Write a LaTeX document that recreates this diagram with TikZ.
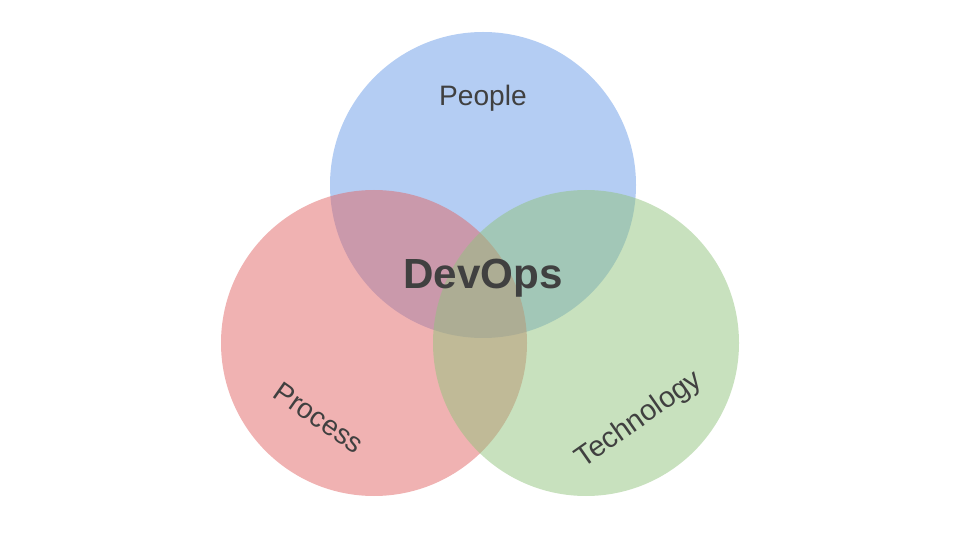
\documentclass[tikz,border=0pt]{standalone}
\usepackage{fontspec}
\setmainfont{Liberation Sans}
\definecolor{peopleblue}{RGB}{105, 155, 231}
\definecolor{processred}{RGB}{225, 101, 101}
\definecolor{techgreen}{RGB}{145, 195, 125}
\definecolor{labelgray}{RGB}{64, 64, 64}
\usetikzlibrary{positioning}

\begin{document}
\begin{tikzpicture}[x=0.02cm, y=-0.02cm]
  \useasboundingbox (0, 0) rectangle (960, 540);

  % Three circles
  \fill[peopleblue, fill opacity=0.5] (483, 185) circle[radius=153];
  \fill[processred, fill opacity=0.5] (374, 343) circle[radius=153];
  \fill[techgreen, fill opacity=0.5] (586, 343) circle[radius=153];

  % Labels
  \node[text=labelgray, font=\fontsize{16}{18}\selectfont] (people) at (483, 98) {People};
  \node[text=labelgray, font=\fontsize{16}{18}\selectfont, rotate=-35] (process) at (319, 418) {Process};
  \node[text=labelgray, font=\fontsize{16.5}{18}\selectfont, rotate=35] (technology) at (639, 420) {Technology};

  \node[text=labelgray, font=\fontsize{24}{28}\selectfont\bfseries] (devops) at (483, 278) {DevOps};
\end{tikzpicture}
\end{document}
